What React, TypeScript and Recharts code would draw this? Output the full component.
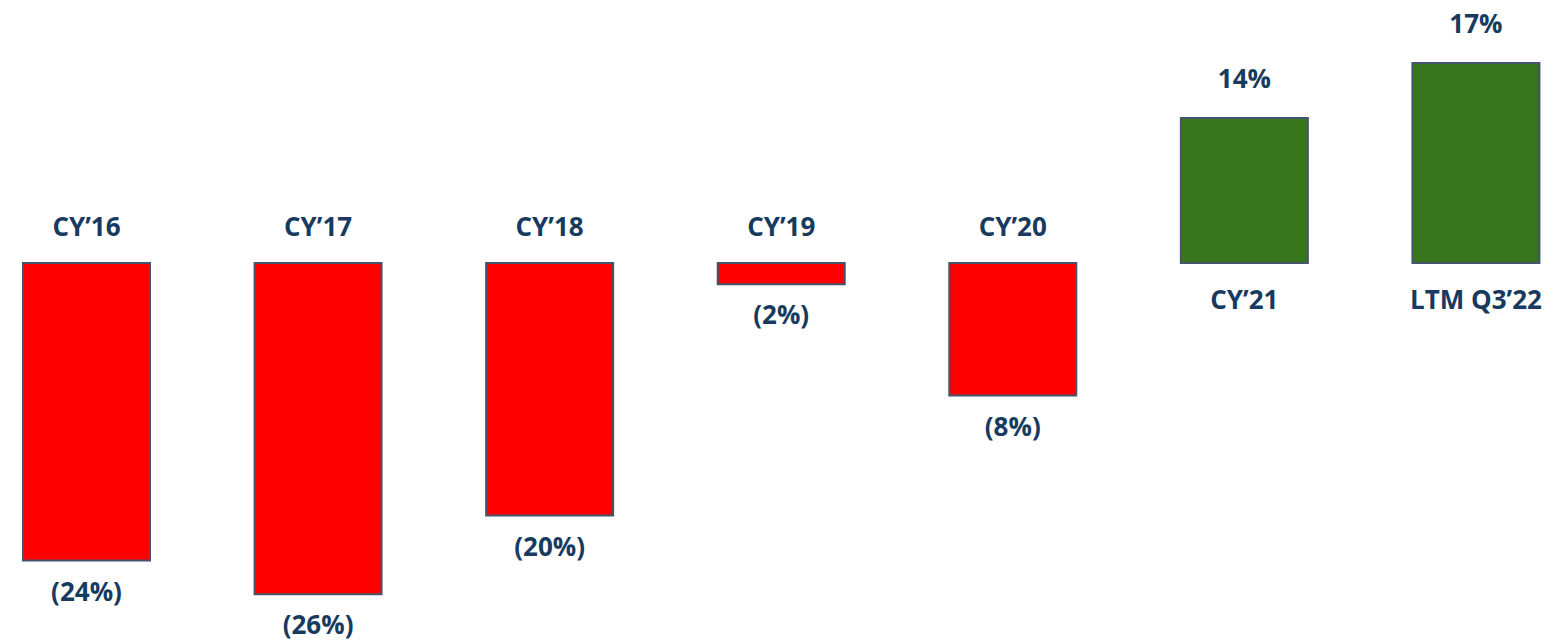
import React from "react";
import { BarChart, Bar, XAxis, YAxis, Cell, LabelList } from "recharts";

// categories and what the bars show
const periods = ["CY\u201916", "CY\u201917", "CY\u201918", "CY\u201919", "CY\u201920", "CY\u201921", "LTM Q3\u201922"];
const growth = [-23.8, -26.5, -20.2, -1.7, -10.6, 11.6, 16.0];
const growthLabels = ["(24%)", "(26%)", "(20%)", "(2%)", "(8%)", "14%", "17%"];

const data = periods.map((name, i) => ({ name, value: growth[i], label: growthLabels[i] }));

const TEXT = "#173A5E";
const FONT = "'Open Sans', 'Noto Sans', sans-serif";

function box(props: any) {
  const vb = props.viewBox ?? props;
  const x = Number(vb.x), y = Number(vb.y), w = Number(vb.width), h = Number(vb.height);
  return { cx: x + w / 2, top: Math.min(y, y + h), bottom: Math.max(y, y + h) };
}

function NameLabel(props: any) {
  const { cx, top, bottom } = box(props);
  const neg = growth[props.index] < 0;
  const cy = neg ? top - 37 : bottom + 36;
  return (
    <text x={cx} y={cy} textAnchor="middle" dominantBaseline="central"
      fill={TEXT} fontFamily={FONT} fontWeight={700} fontSize={26}>
      {props.value}
    </text>
  );
}

function ValueLabel(props: any) {
  const { cx, top, bottom } = box(props);
  const neg = growth[props.index] < 0;
  const cy = neg ? bottom + 30 : top - 40;
  return (
    <text x={cx} y={cy} textAnchor="middle" dominantBaseline="central"
      fill={TEXT} fontFamily={FONT} fontWeight={700} fontSize={26}>
      {props.value}
    </text>
  );
}

export default function App() {
  return (
    <div style={{ position: "fixed", left: 0, top: 0, width: 1558, height: 643, overflow: "hidden", background: "#fff" }}>
      <div style={{ position: "absolute", left: -29, top: 0 }}>
        <BarChart width={1621} height={643} data={data} margin={{ top: 13, right: 0, bottom: 30, left: 0 }}>
          <XAxis dataKey="name" hide />
          <YAxis hide domain={[-28, 20]} />
          <Bar dataKey="value" barSize={127} stroke="#44546A" strokeWidth={2} isAnimationActive={false}>
            {data.map((d, i) => (
              <Cell key={i} fill={d.value < 0 ? "#FF0000" : "#38761D"} />
            ))}
            <LabelList dataKey="name" content={<NameLabel />} />
            <LabelList dataKey="label" content={<ValueLabel />} />
          </Bar>
        </BarChart>
      </div>
    </div>
  );
}
